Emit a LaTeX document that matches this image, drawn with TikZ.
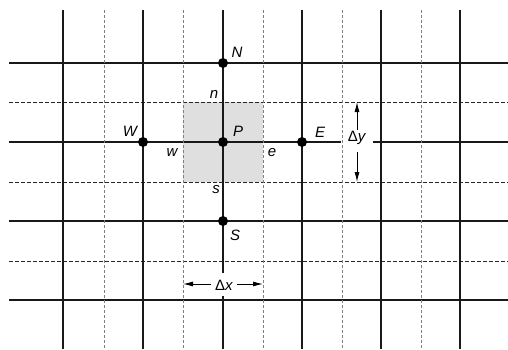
\documentclass[tikz,border=0pt]{standalone}
\usepackage{fontspec}
\setmainfont{Liberation Sans}
\usetikzlibrary{arrows.meta,positioning}

\begin{document}
\begin{tikzpicture}[x=1pt,y=-1pt,>={Latex[length=10pt,width=5pt]}]
  \tikzstyle{gridline}=[line width=1.5pt,black!90]
  \tikzstyle{face}=[line width=0.7pt,black!85,dash pattern=on 3.5pt off 2.5pt]
  \tikzstyle{dotted face}=[line width=0.7pt,gray,dash pattern=on 2.5pt off 2.5pt]
  \tikzstyle{dot}=[circle,fill=black,inner sep=0pt,minimum size=10pt]
  \tikzstyle{lbl}=[font=\fontsize{15}{18}\selectfont\itshape,anchor=base,inner sep=0pt]
  \tikzstyle{dim}=[font=\fontsize{15}{18}\selectfont,fill=white,inner xsep=3.5pt]
  \useasboundingbox (0,0) rectangle (508,349);
  % control volume around P
  \fill[gray!25] (183,102) rectangle (263,182);
  \foreach \y in {102,182,261}
    \draw[face] (9,\y) -- (508,\y);
  \foreach \y in {63,142,221,300}
    \draw[gridline] (9,\y) -- (508,\y);
  \foreach \x in {63,143,223,302,381,460}
    \draw[gridline] (\x,10) -- (\x,349);
  % widths of the cell
  \node[dim,text height=5pt,text depth=5pt,inner ysep=6pt,inner xsep=6.5pt] (dy) at (357,141) {Δ\textit{y}};
  \node[dim,text height=12pt,text depth=0pt,inner ysep=5.5pt] (dx) at (224,284) {Δ\textit{x}};
  \foreach \x in {104,183,263,342,421}
    \draw[dotted face] (\x,10) -- (\x,349);
  \coordinate (dyn) at (357,102);
  \coordinate (dys) at (357,182);
  \coordinate (dxw) at (183,284);
  \coordinate (dxe) at (263,284);
  \draw[->,line width=0.9pt] (dy.north -| dyn) -- (dyn);
  \draw[->,line width=0.9pt] (dy.south -| dys) -- (dys);
  \draw[->,line width=0.9pt] (dx) -- (dxw);
  \draw[->,line width=0.9pt] (dx) -- (dxe);
  % nodes
  \node[dot] (N) at (223,63) {};
  \node[dot] (W) at (143,142) {};
  \node[dot] (P) at (223,142) {};
  \node[dot] (E) at (302,142) {};
  \node[dot] (S) at (223,221) {};
  % labels
  \node[lbl] (Nlbl) at (237,57) {N};
  \node[lbl] (nlbl) at (214,98) {n};
  \node[lbl] (Wlbl) at (130,136) {W};
  \node[lbl] (Plbl) at (238,136) {P};
  \node[lbl] (Elbl) at (320,137) {E};
  \node[lbl] (wlbl) at (172,156) {w};
  \node[lbl] (elbl) at (272,156) {e};
  \node[lbl] (slbl) at (216,193) {s};
  \node[lbl] (Slbl) at (235,240) {S};
\end{tikzpicture}
\end{document}
